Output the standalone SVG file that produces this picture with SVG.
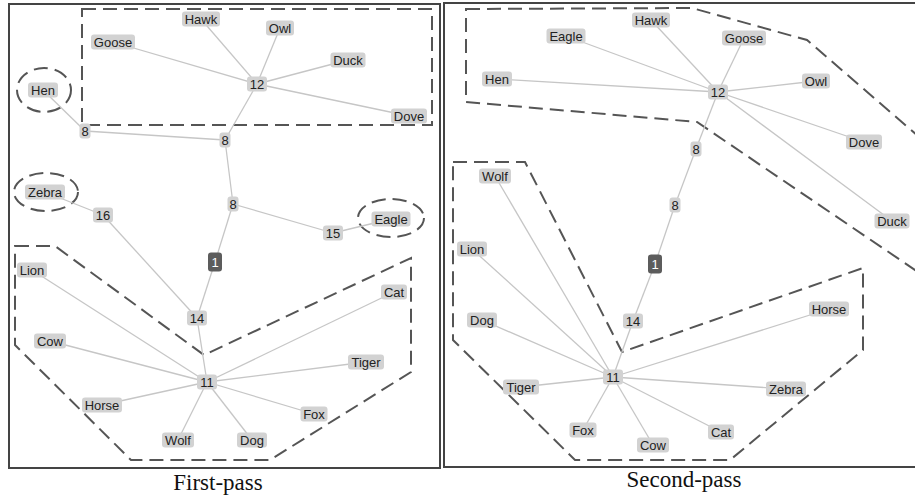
<svg xmlns="http://www.w3.org/2000/svg" width="915" height="498" viewBox="0 0 915 498">
  <style>
    .frame { fill: none; stroke: #444; stroke-width: 2; }
    .group { fill: none; stroke: #555; stroke-width: 2; stroke-dasharray: 14 7; }
    .edge { stroke: #c6c6c6; stroke-width: 1.3; fill: none; }
    .box { fill: #d2d2d2; }
    .root { fill: #5c5c5c; }
    .lbl { font-family: "Liberation Sans", Arial, sans-serif; font-size: 13px; fill: #222; text-anchor: middle; }
    .rootlbl { font-family: "Liberation Sans", Arial, sans-serif; font-size: 13px; fill: #fff; text-anchor: middle; }
    .cap { font-family: "Liberation Serif", "Times New Roman", serif; font-size: 23px; fill: #111; text-anchor: middle; }
  </style>
  <rect x="0" y="0" width="915" height="498" fill="#fff"/>

  <!-- panel frames -->
  <rect class="frame" x="9" y="4" width="431" height="464"/>
  <rect class="frame" x="444" y="3" width="480" height="464"/>

  <!-- cluster outlines, first pass -->
  <g id="clusters-first">
    <rect class="group" x="82" y="9" width="350" height="116"/>
    <ellipse class="group" cx="44" cy="90" rx="27" ry="22"/>
    <ellipse class="group" cx="46" cy="192" rx="32" ry="19"/>
    <ellipse class="group" cx="391" cy="218" rx="33" ry="19"/>
    <polygon class="group" points="15,246 55,246 204,355 411,258 411,372 270,460 131,460 15,345"/>
  </g>

  <!-- cluster outlines, second pass -->
  <g id="clusters-second">
    <polygon class="group" points="466,9 692,8 807,40 918,136 918,272 697,122 466,102"/>
    <polygon class="group" points="453,162 525,162 622,352 863,268 863,350 730,460 575,460 453,340"/>
  </g>

  <!-- connectors -->
  <g id="connectors">
    <!-- first pass -->
    <line class="edge" x1="257" y1="84" x2="201" y2="19"/>
    <line class="edge" x1="257" y1="84" x2="280" y2="28"/>
    <line class="edge" x1="257" y1="84" x2="113" y2="42"/>
    <line class="edge" x1="257" y1="84" x2="348" y2="60"/>
    <line class="edge" x1="257" y1="84" x2="409" y2="116"/>
    <line class="edge" x1="257" y1="84" x2="225" y2="140"/>
    <line class="edge" x1="43" y1="90" x2="85" y2="131"/>
    <line class="edge" x1="85" y1="131" x2="225" y2="140"/>
    <line class="edge" x1="225" y1="140" x2="233" y2="204"/>
    <line class="edge" x1="233" y1="204" x2="333" y2="233"/>
    <line class="edge" x1="333" y1="233" x2="391" y2="219"/>
    <line class="edge" x1="233" y1="204" x2="215" y2="262"/>
    <line class="edge" x1="215" y1="262" x2="197" y2="318"/>
    <line class="edge" x1="45" y1="192" x2="103" y2="215"/>
    <line class="edge" x1="103" y1="215" x2="197" y2="318"/>
    <line class="edge" x1="197" y1="318" x2="207" y2="382"/>
    <line class="edge" x1="207" y1="382" x2="32" y2="270"/>
    <line class="edge" x1="207" y1="382" x2="50" y2="341"/>
    <line class="edge" x1="207" y1="382" x2="102" y2="405"/>
    <line class="edge" x1="207" y1="382" x2="178" y2="440"/>
    <line class="edge" x1="207" y1="382" x2="252" y2="440"/>
    <line class="edge" x1="207" y1="382" x2="314" y2="414"/>
    <line class="edge" x1="207" y1="382" x2="366" y2="362"/>
    <line class="edge" x1="207" y1="382" x2="394" y2="292"/>
    <!-- second pass -->
    <line class="edge" x1="718" y1="92" x2="651" y2="20"/>
    <line class="edge" x1="718" y1="92" x2="566" y2="36"/>
    <line class="edge" x1="718" y1="92" x2="744" y2="38"/>
    <line class="edge" x1="718" y1="92" x2="497" y2="79"/>
    <line class="edge" x1="718" y1="92" x2="816" y2="81"/>
    <line class="edge" x1="718" y1="92" x2="864" y2="142"/>
    <line class="edge" x1="718" y1="92" x2="892" y2="221"/>
    <line class="edge" x1="718" y1="92" x2="696" y2="149"/>
    <line class="edge" x1="696" y1="149" x2="675" y2="205"/>
    <line class="edge" x1="675" y1="205" x2="655" y2="264"/>
    <line class="edge" x1="655" y1="264" x2="633" y2="321"/>
    <line class="edge" x1="633" y1="321" x2="613" y2="377"/>
    <line class="edge" x1="613" y1="377" x2="495" y2="176"/>
    <line class="edge" x1="613" y1="377" x2="472" y2="249"/>
    <line class="edge" x1="613" y1="377" x2="482" y2="320"/>
    <line class="edge" x1="613" y1="377" x2="521" y2="387"/>
    <line class="edge" x1="613" y1="377" x2="583" y2="430"/>
    <line class="edge" x1="613" y1="377" x2="653" y2="445"/>
    <line class="edge" x1="613" y1="377" x2="721" y2="432"/>
    <line class="edge" x1="613" y1="377" x2="786" y2="389"/>
    <line class="edge" x1="613" y1="377" x2="829" y2="309"/>
  </g>

  <!-- first pass nodes -->
  <g id="f-hawk"><rect class="box" x="182" y="11.5" width="38" height="15" rx="3"/><text class="lbl" x="201" y="23.5">Hawk</text></g>
  <g id="f-owl"><rect class="box" x="266" y="20.5" width="28" height="15" rx="3"/><text class="lbl" x="280" y="32.5">Owl</text></g>
  <g id="f-goose"><rect class="box" x="91" y="34.5" width="44" height="15" rx="3"/><text class="lbl" x="113" y="46.5">Goose</text></g>
  <g id="f-duck"><rect class="box" x="330.5" y="52.5" width="35" height="15" rx="3"/><text class="lbl" x="348" y="64.5">Duck</text></g>
  <g id="f-12"><rect class="box" x="247" y="76.5" width="20" height="15" rx="3"/><text class="lbl" x="257" y="88.5">12</text></g>
  <g id="f-dove"><rect class="box" x="391" y="108.5" width="36" height="15" rx="3"/><text class="lbl" x="409" y="120.5">Dove</text></g>
  <g id="f-hen"><rect class="box" x="28" y="82.5" width="30" height="15" rx="3"/><text class="lbl" x="43" y="94.5">Hen</text></g>
  <g id="f-8a"><rect class="box" x="79.5" y="123.5" width="11" height="15" rx="3"/><text class="lbl" x="85" y="135.5">8</text></g>
  <g id="f-8b"><rect class="box" x="219.5" y="132.5" width="11" height="15" rx="3"/><text class="lbl" x="225" y="144.5">8</text></g>
  <g id="f-zebra"><rect class="box" x="25" y="184.5" width="40" height="15" rx="3"/><text class="lbl" x="45" y="196.5">Zebra</text></g>
  <g id="f-16"><rect class="box" x="93" y="207.5" width="20" height="15" rx="3"/><text class="lbl" x="103" y="219.5">16</text></g>
  <g id="f-8c"><rect class="box" x="227.5" y="196.5" width="11" height="15" rx="3"/><text class="lbl" x="233" y="208.5">8</text></g>
  <g id="f-15"><rect class="box" x="323" y="225.5" width="20" height="15" rx="3"/><text class="lbl" x="333" y="237.5">15</text></g>
  <g id="f-eagle"><rect class="box" x="371.5" y="211.5" width="39" height="15" rx="3"/><text class="lbl" x="391" y="223.5">Eagle</text></g>
  <g id="f-1"><rect class="root" x="208" y="252.5" width="14" height="19" rx="3"/><text class="rootlbl" x="215" y="266.5">1</text></g>
  <g id="f-14"><rect class="box" x="187" y="310.5" width="20" height="15" rx="3"/><text class="lbl" x="197" y="322.5">14</text></g>
  <g id="f-lion"><rect class="box" x="17" y="262.5" width="30" height="15" rx="3"/><text class="lbl" x="32" y="274.5">Lion</text></g>
  <g id="f-cat"><rect class="box" x="381" y="284.5" width="26" height="15" rx="3"/><text class="lbl" x="394" y="296.5">Cat</text></g>
  <g id="f-cow"><rect class="box" x="34" y="333.5" width="32" height="15" rx="3"/><text class="lbl" x="50" y="345.5">Cow</text></g>
  <g id="f-11"><rect class="box" x="197" y="374.5" width="20" height="15" rx="3"/><text class="lbl" x="207" y="386.5">11</text></g>
  <g id="f-tiger"><rect class="box" x="348" y="354.5" width="36" height="15" rx="3"/><text class="lbl" x="366" y="366.5">Tiger</text></g>
  <g id="f-horse"><rect class="box" x="82" y="397.5" width="40" height="15" rx="3"/><text class="lbl" x="102" y="409.5">Horse</text></g>
  <g id="f-fox"><rect class="box" x="300.5" y="406.5" width="27" height="15" rx="3"/><text class="lbl" x="314" y="418.5">Fox</text></g>
  <g id="f-wolf"><rect class="box" x="162" y="432.5" width="32" height="15" rx="3"/><text class="lbl" x="178" y="444.5">Wolf</text></g>
  <g id="f-dog"><rect class="box" x="237" y="432.5" width="30" height="15" rx="3"/><text class="lbl" x="252" y="444.5">Dog</text></g>

  <!-- second pass nodes -->
  <g id="s-hawk"><rect class="box" x="632" y="12.5" width="38" height="15" rx="3"/><text class="lbl" x="651" y="24.5">Hawk</text></g>
  <g id="s-eagle"><rect class="box" x="546.5" y="28.5" width="39" height="15" rx="3"/><text class="lbl" x="566" y="40.5">Eagle</text></g>
  <g id="s-goose"><rect class="box" x="722" y="30.5" width="44" height="15" rx="3"/><text class="lbl" x="744" y="42.5">Goose</text></g>
  <g id="s-hen"><rect class="box" x="482" y="71.5" width="30" height="15" rx="3"/><text class="lbl" x="497" y="83.5">Hen</text></g>
  <g id="s-owl"><rect class="box" x="802" y="73.5" width="28" height="15" rx="3"/><text class="lbl" x="816" y="85.5">Owl</text></g>
  <g id="s-12"><rect class="box" x="708" y="84.5" width="20" height="15" rx="3"/><text class="lbl" x="718" y="96.5">12</text></g>
  <g id="s-dove"><rect class="box" x="846" y="134.5" width="36" height="15" rx="3"/><text class="lbl" x="864" y="146.5">Dove</text></g>
  <g id="s-8a"><rect class="box" x="690.5" y="141.5" width="11" height="15" rx="3"/><text class="lbl" x="696" y="153.5">8</text></g>
  <g id="s-8b"><rect class="box" x="669.5" y="197.5" width="11" height="15" rx="3"/><text class="lbl" x="675" y="209.5">8</text></g>
  <g id="s-duck"><rect class="box" x="874.5" y="213.5" width="35" height="15" rx="3"/><text class="lbl" x="892" y="225.5">Duck</text></g>
  <g id="s-wolf"><rect class="box" x="479" y="168.5" width="32" height="15" rx="3"/><text class="lbl" x="495" y="180.5">Wolf</text></g>
  <g id="s-lion"><rect class="box" x="457" y="241.5" width="30" height="15" rx="3"/><text class="lbl" x="472" y="253.5">Lion</text></g>
  <g id="s-1"><rect class="root" x="648" y="254.5" width="14" height="19" rx="3"/><text class="rootlbl" x="655" y="268.5">1</text></g>
  <g id="s-horse"><rect class="box" x="809" y="301.5" width="40" height="15" rx="3"/><text class="lbl" x="829" y="313.5">Horse</text></g>
  <g id="s-dog"><rect class="box" x="467" y="312.5" width="30" height="15" rx="3"/><text class="lbl" x="482" y="324.5">Dog</text></g>
  <g id="s-14"><rect class="box" x="623" y="313.5" width="20" height="15" rx="3"/><text class="lbl" x="633" y="325.5">14</text></g>
  <g id="s-11"><rect class="box" x="603" y="369.5" width="20" height="15" rx="3"/><text class="lbl" x="613" y="381.5">11</text></g>
  <g id="s-tiger"><rect class="box" x="503" y="379.5" width="36" height="15" rx="3"/><text class="lbl" x="521" y="391.5">Tiger</text></g>
  <g id="s-zebra"><rect class="box" x="766" y="381.5" width="40" height="15" rx="3"/><text class="lbl" x="786" y="393.5">Zebra</text></g>
  <g id="s-fox"><rect class="box" x="569.5" y="422.5" width="27" height="15" rx="3"/><text class="lbl" x="583" y="434.5">Fox</text></g>
  <g id="s-cat"><rect class="box" x="708" y="424.5" width="26" height="15" rx="3"/><text class="lbl" x="721" y="436.5">Cat</text></g>
  <g id="s-cow"><rect class="box" x="637" y="437.5" width="32" height="15" rx="3"/><text class="lbl" x="653" y="449.5">Cow</text></g>

  <!-- captions -->
  <text class="cap" x="218" y="490">First-pass</text>
  <text class="cap" x="684" y="487">Second-pass</text>
</svg>
